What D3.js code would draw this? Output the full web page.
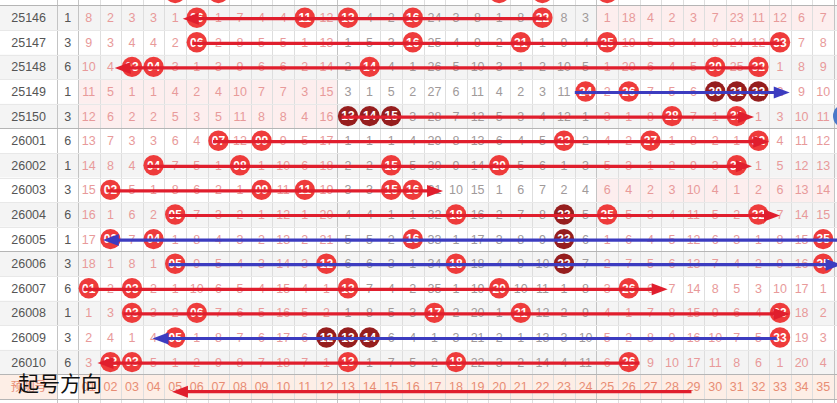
<!DOCTYPE html>
<html><head><meta charset="utf-8">
<script src="https://cdn.jsdelivr.net/npm/d3@7/dist/d3.min.js"></script>
<style>html,body{margin:0;padding:0;background:#fff;overflow:hidden}svg{display:block}</style>
</head><body><svg id="c" width="837" height="403"></svg>
<script>
// ---------- data ----------
const periods = ["25145","25146","25147","25148","25149","25150","26001","26002","26003","26004","26005","26006","26007","26008","26009","26010"];
const groupNo = [6,1,3,6,1,3,6,1,3,6,1,3,6,1,3,6];
const numberLabels = ["01","02","03","04","05","06","07","08","09","10","11","12","13","14","15","16","17","18","19","20","21","22","23","24","25","26","27","28","29","30","31","32","33","34","35"];
const hits = [
  [5,7,20,22,25],[6,11,13,16,22],[6,16,21,25,33],[3,4,14,30,32],[24,26,30,31,32],[13,14,15,28,31],
  [7,9,23,27,32],[4,8,15,20,31],[2,9,11,15,16],[5,18,23,25,32],[2,4,16,23,35],[5,12,18,23,35],
  [1,3,13,20,26],[3,6,17,21,33],[5,12,13,14,33],[2,3,13,18,26]
];
const darkHits = [[],[],[],[],[30,31,32],[13,14,15],[],[],[],[23],[23],[23],[],[],[12,13,14],[]];
const misses = [
  [7,1,2,2,0,4,0,6,3,3,5,11,3,3,1,9,23,2,7,0,7,0,7,2,0,17,3,1,2,6,22,10,11,5,6],
  [8,2,3,3,1,0,1,7,4,4,0,12,0,4,2,0,24,3,8,1,8,0,8,3,1,18,4,2,3,7,23,11,12,6,7],
  [9,3,4,4,2,0,2,8,5,5,1,13,1,5,3,0,25,4,9,2,0,1,9,4,0,19,5,3,4,8,24,12,0,7,8],
  [10,4,0,0,3,1,3,9,6,6,2,14,2,0,4,1,26,5,10,3,1,2,10,5,1,20,6,4,5,0,25,0,1,8,9],
  [11,5,1,1,4,2,4,10,7,7,3,15,3,1,5,2,27,6,11,4,2,3,11,0,2,0,7,5,6,0,0,0,2,9,10],
  [12,6,2,2,5,3,5,11,8,8,4,16,0,0,0,3,28,7,12,5,3,4,12,1,3,1,8,0,7,1,0,1,3,10,11],
  [13,7,3,3,6,4,0,12,0,9,5,17,1,1,1,4,29,8,13,6,4,5,0,2,4,2,0,1,8,2,1,0,4,11,12],
  [14,8,4,0,7,5,1,0,1,10,6,18,2,2,0,5,30,9,14,0,5,6,1,3,5,3,1,2,9,3,0,1,5,12,13],
  [15,0,5,1,8,6,2,1,0,11,0,19,3,3,0,0,31,10,15,1,6,7,2,4,6,4,2,3,10,4,1,2,6,13,14],
  [16,1,6,2,0,7,3,2,1,12,1,20,4,4,1,1,32,0,16,2,7,8,0,5,0,5,3,4,11,5,2,0,7,14,15],
  [17,0,7,0,1,8,4,3,2,13,2,21,5,5,2,0,33,1,17,3,8,9,0,6,1,6,4,5,12,6,3,1,8,15,0],
  [18,1,8,1,0,9,5,4,3,14,3,0,6,6,3,1,34,0,18,4,9,10,0,7,2,7,5,6,13,7,4,2,9,16,0],
  [0,2,0,2,1,10,6,5,4,15,4,1,0,7,4,2,35,1,19,0,10,11,1,8,3,0,6,7,14,8,5,3,10,17,1],
  [1,3,0,3,2,0,7,6,5,16,5,2,1,8,5,3,0,2,20,1,0,12,2,9,4,1,7,8,15,9,6,4,0,18,2],
  [2,4,1,4,0,1,8,7,6,17,6,0,0,0,6,4,1,3,21,2,1,13,3,10,5,2,8,9,16,10,7,5,0,19,3],
  [3,0,0,5,1,2,9,8,7,18,7,1,0,1,7,5,2,0,22,3,2,14,4,11,6,0,9,10,17,11,8,6,1,20,4]
];
const zones = [[1,12],[13,24],[25,35]];
const forecastLabel = "预测号";
const noteText = "起号方向";
// arrows: row, from column, to column (column units), colour, arrowhead
const arrows = [
  {row:"25146", from:22.2, to:5.35, color:"red", head:true},
  {row:"25147", from:5.8, to:33.1, color:"red", head:false},
  {row:"25148", from:32.2, to:2.2, color:"red", head:true},
  {row:"25149", from:23.5, to:33.45, color:"blue", head:true},
  {row:"25150", from:12.7, to:31.8, color:"red", head:true},
  {row:"26001", from:6.75, to:32.5, color:"red", head:true},
  {row:"26002", from:3.7, to:31.7, color:"red", head:true},
  {row:"26003", from:1.85, to:17.4, color:"red", head:true},
  {row:"26004", from:4.7, to:33.0, color:"red", head:true},
  {row:"26005", from:35.7, to:1.65, color:"blue", head:true},
  {row:"26006", from:4.7, to:35.85, color:"blue", head:true},
  {row:"26007", from:0.75, to:27.8, color:"red", head:true},
  {row:"26008", from:2.6, to:33.45, color:"red", head:true},
  {row:"26009", from:32.85, to:3.95, color:"blue", head:true},
  {row:"26010", from:26.5, to:1.4, color:"red", head:true},
  {row:"预测", from:28.9, to:4.85, color:"red", head:true}
];

// ---------- layout ----------
const W = 837, H = 403;
const svg = d3.select("#c");
const rowH = 24.6;
const allRows = periods.concat(["预测"]);
const firstTop = 5.4 - rowH;
const y = d3.scaleBand().domain(allRows).range([firstTop, firstTop + rowH * allRows.length]);
const x = d3.scaleBand().domain(numberLabels).range([78, 834]);
const xc = d3.scaleLinear().domain([0.5, 35.5]).range([78, 834]);
const c1 = 57.3, c2 = 78;
const font = "'Liberation Sans', Arial, sans-serif";
const colors = {
  rowAlt: "#f4f4f4", zoneEmpty: "#fdeeee", forecastBg: "#fdeee6",
  pinkText: "#e89a9a", grayText: "#a09a9a", labelText: "#555",
  hit: "#ee3b3b", dark: "#961e1e", red: "#e01e2d", blue: "#3c3cc0",
  grid: "#dedede", gridDark: "#c4c4c4", sep: "#b5b5b5", fText: "#e88d74"
};
// a row is only partly inside the picture: its texts are not visible
const visibleText = p => y(p) >= 0;

// backgrounds
const bg = svg.append("g");
periods.forEach((p, i) => {
  const fill = i % 2 === 1 ? colors.rowAlt : "#fff";
  bg.append("rect").attr("x", 0).attr("y", y(p)).attr("width", W).attr("height", y.bandwidth()).attr("fill", fill);
  zones.forEach(z => {
    const any = hits[i].some(h => h >= z[0] && h <= z[1]);
    if (!any) {
      bg.append("rect").attr("x", x(numberLabels[z[0]-1])).attr("y", y(p))
        .attr("width", x(numberLabels[z[1]-1]) + x.bandwidth() - x(numberLabels[z[0]-1]))
        .attr("height", y.bandwidth()).attr("fill", colors.zoneEmpty);
    }
  });
});
bg.append("rect").attr("x", 0).attr("y", y("预测")).attr("width", W).attr("height", y.bandwidth()).attr("fill", colors.forecastBg);
bg.append("rect").attr("x", c1).attr("y", y("预测")).attr("width", c2 - c1).attr("height", y.bandwidth()).attr("fill", "#fff");

// grid
const grid = svg.append("g").attr("shape-rendering", "crispEdges");
numberLabels.forEach((n, k) => {
  if (k === 0) return;
  const xx = Math.round(x(n)) + 0.5;
  const dark = (k === 12 || k === 24);
  grid.append("line").attr("x1", xx).attr("x2", xx).attr("y1", 0).attr("y2", H)
    .attr("stroke", dark ? colors.gridDark : colors.grid);
});
[c1, c2, 834].forEach(xx => grid.append("line").attr("x1", Math.round(xx)+0.5).attr("x2", Math.round(xx)+0.5).attr("y1", 0).attr("y2", H).attr("stroke", colors.gridDark));
allRows.forEach((p, i) => {
  const yy = Math.round(y(p) + y.bandwidth()) + 0.5;
  const isSep = (i % 5 === 0) || p === "预测";
  grid.append("line").attr("x1", 0).attr("x2", W).attr("y1", yy).attr("y2", yy)
    .attr("stroke", isSep ? colors.sep : "#e8e8e8");
});

// labels
const lab = svg.append("g").attr("font-family", font).attr("font-size", 12.5).attr("text-anchor", "middle");
periods.forEach((p, i) => {
  if (!visibleText(p)) return;
  const cy = y(p) + y.bandwidth() / 2 + 4.5;
  lab.append("text").attr("x", c1 / 2).attr("y", cy).attr("fill", colors.labelText).text(p);
  lab.append("text").attr("x", (c1 + c2) / 2).attr("y", cy).attr("fill", colors.labelText).text(groupNo[i]);
});

// miss values
const cells = svg.append("g").attr("font-family", font).attr("font-size", 12.5).attr("text-anchor", "middle");
periods.forEach((p, i) => {
  if (!visibleText(p)) return;
  misses[i].forEach((v, k) => {
    const num = k + 1;
    if (hits[i].includes(num)) return;
    const zone2 = num >= zones[1][0] && num <= zones[1][1];
    cells.append("text").attr("x", x(numberLabels[k]) + x.bandwidth() / 2)
      .attr("y", y(p) + y.bandwidth() / 2 + 4.5)
      .attr("fill", zone2 ? colors.grayText : colors.pinkText).text(v);
  });
});

// hit balls
const balls = svg.append("g").attr("font-family", font);
periods.forEach((p, i) => {
  hits[i].forEach(h => {
    const cx = x(numberLabels[h-1]) + x.bandwidth() / 2, cy = y(p) + y.bandwidth() / 2;
    balls.append("circle").attr("cx", cx).attr("cy", cy).attr("r", 10.2)
      .attr("fill", darkHits[i].includes(h) ? colors.dark : colors.hit);
    if (visibleText(p)) {
      balls.append("text").attr("x", cx).attr("y", cy + 4.3).attr("text-anchor", "middle")
        .attr("font-size", 12).attr("font-weight", "bold").attr("fill", "#fff").text(numberLabels[h-1]);
    }
  });
});

// forecast row
const fr = svg.append("g").attr("font-family", font).attr("font-size", 12.5).attr("text-anchor", "middle");
const fcy = y("预测") + y.bandwidth() / 2 + 4.5;
fr.append("text").attr("x", c1 / 2).attr("y", fcy).attr("fill", colors.fText)
  .attr("font-family", "'Noto Sans CJK SC', sans-serif").attr("font-size", 12).text(forecastLabel);
numberLabels.forEach(n => fr.append("text").attr("x", x(n) + x.bandwidth() / 2).attr("y", fcy).attr("fill", colors.fText).text(n));

// arrows
const ar = svg.append("g");
arrows.forEach(a => {
  const col = a.color === "blue" ? colors.blue : colors.red;
  const yy = y(a.row) + y.bandwidth() / 2 + (a.row === "预测" ? 5 : 1);
  const x1 = xc(a.from), x2 = xc(a.to);
  const dir = x2 > x1 ? 1 : -1;
  const L = 16, hw = 6;
  ar.append("line").attr("x1", x1).attr("x2", a.head ? x2 - dir * (L - 2) : x2).attr("y1", yy).attr("y2", yy)
    .attr("stroke", col).attr("stroke-width", 3.2);
  if (a.head) {
    ar.append("path").attr("d", `M${x2},${yy} L${x2 - dir*L},${yy - hw} L${x2 - dir*L},${yy + hw} Z`).attr("fill", col);
  }
});

// note
svg.append("text").attr("x", 18).attr("y", 391).attr("font-family", "'Noto Sans CJK SC', sans-serif")
  .attr("font-size", 21).attr("fill", "#111").text(noteText);

// floating button at right edge
svg.append("circle").attr("cx", 845).attr("cy", y("25150") + y.bandwidth() / 2).attr("r", 12).attr("fill", "#4a78c8");
</script></body></html>
